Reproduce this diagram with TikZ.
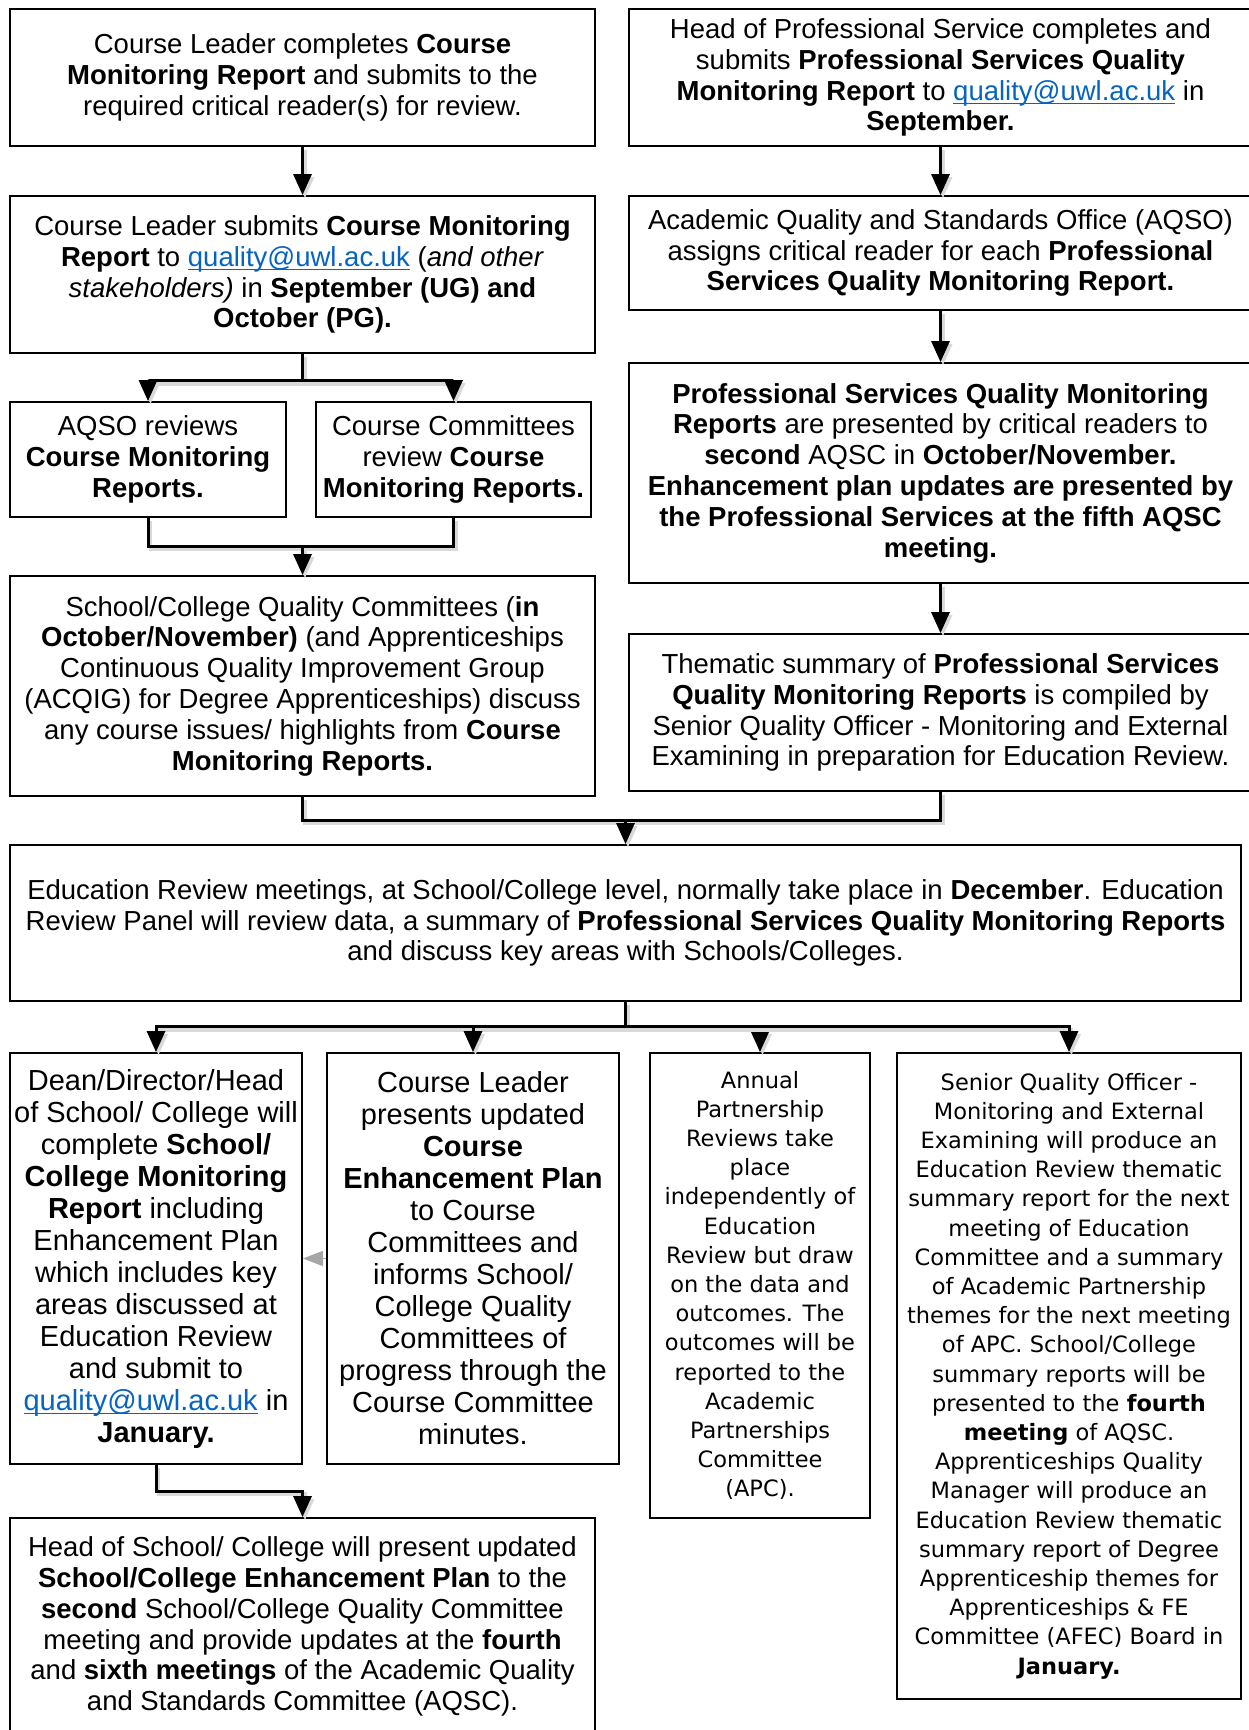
\documentclass[tikz,border=0pt]{standalone}
\usepackage{fontspec}
\usepackage{xcolor}
\usepackage{tikz}
\usetikzlibrary{arrows.meta,positioning,calc}
\setmainfont{Liberation Sans}
\newfontfamily\verdfont{DejaVu Sans}
\definecolor{linkblue}{RGB}{5,99,193}
\newcommand{\maillink}{{\color{linkblue}\setbox0\hbox{quality@uwl.ac.uk}\rlap{\rule[-4pt]{\wd0}{1.4pt}}\box0}}

\begin{document}
\begin{tikzpicture}[
    x=1pt, y=-1pt,
    box/.style={
        draw,
        line width=1.8pt,
        align=center,
        inner sep=0pt,
        font=\fontsize{27.5}{30.8}\selectfont
    },
    tallbox/.style={box, font=\fontsize{29}{32}\selectfont},
    verdbox/.style={box, font=\verdfont\fontsize{22.5}{29.2}\selectfont},
    line/.style={line width=3pt,
        preaction={draw=black!15, line width=3.5pt, transform canvas={shift={(2.5pt,-3pt)}}}},
    conn/.style={line, -{Triangle[width=18pt,length=21pt]}},
    grayarr/.style={draw=black!35, line width=1.8pt, -{Triangle[width=15pt,length=20pt]}}
]
\useasboundingbox (0,0) rectangle (1249,1730);

% --- Left column: course monitoring ---
\node[box, minimum width=585, minimum height=137] (cl1) at (302.5,77.5)
    {Course Leader completes \textbf{Course}\\
     \textbf{Monitoring Report} and submits to the\\
     required critical reader(s) for review.};
\node[box, minimum width=585, minimum height=157] (cl2) at (302.5,274.5)
    {Course Leader submits \textbf{Course Monitoring}\\
     \textbf{Report} to \maillink{} (\textit{and other}\\
     \textit{stakeholders)} in \textbf{September (UG) and}\\
     \textbf{October (PG).}};
\node[box, minimum width=276, minimum height=115] (aqso) at (148,459.5)
    {AQSO reviews\\ \textbf{Course Monitoring}\\ \textbf{Reports.}};
\node[box, minimum width=275, minimum height=115] (ccr) at (453.5,459.5)
    {Course Committees\\ review \textbf{Course}\\ \textbf{Monitoring Reports.}};
\node[box, minimum width=585, minimum height=220] (sqc) at (302.5,686)
    {School/College Quality Committees (\textbf{in}\\
     \textbf{October/November)} (and Apprenticeships\\
     Continuous Quality Improvement Group\\
     (ACQIG) for Degree Apprenticeships) discuss\\
     any course issues/ highlights from \textbf{Course}\\
     \textbf{Monitoring Reports.}};

% --- Right column: professional services ---
\node[box, minimum width=623, minimum height=137] (ps1) at (940.5,77.5)
    {Head of Professional Service completes and\\
     submits \textbf{Professional Services Quality}\\
     \textbf{Monitoring Report} to \maillink{} in\\
     \textbf{September.}};
\node[box, minimum width=623, minimum height=114] (asg) at (940.5,253)
    {Academic Quality and Standards Office (AQSO)\\
     assigns critical reader for each \textbf{Professional}\\
     \textbf{Services Quality Monitoring Report.}};
\node[box, minimum width=623, minimum height=220] (ps3) at (940.5,473)
    {\textbf{Professional Services Quality Monitoring}\\
     \textbf{Reports} are presented by critical readers to\\
     \textbf{second} AQSC in \textbf{October/November.}\\
     \textbf{Enhancement plan updates are presented by}\\
     \textbf{the Professional Services at the fifth AQSC}\\
     \textbf{meeting.}};
\node[box, minimum width=623, minimum height=157] (thm) at (940.5,712.5)
    {Thematic summary of \textbf{Professional Services}\\
     \textbf{Quality Monitoring Reports} is compiled by\\
     Senior Quality Officer - Monitoring and External\\
     Examining in preparation for Education Review.};

% --- Education Review ---
\node[box, minimum width=1231, minimum height=156] (edu) at (625.5,923)
    {Education Review meetings, at School/College level, normally take place in \textbf{December}. Education\\
     Review Panel will review data, a summary of \textbf{Professional Services Quality Monitoring Reports}\\
     and discuss key areas with Schools/Colleges.};

% --- Outcomes ---
\node[tallbox, minimum width=292, minimum height=411] (dean) at (156,1258.5)
    {Dean/Director/Head\\ of School/ College will\\ complete \textbf{School/}\\
     \textbf{College Monitoring}\\ \textbf{Report} including\\ Enhancement Plan\\
     which includes key\\ areas discussed at\\ Education Review\\
     and submit to\\ \maillink{} in\\ \textbf{January.}};
\node[tallbox, minimum width=292, minimum height=411] (clp) at (473,1258.5)
    {Course Leader\\ presents updated\\ \textbf{Course}\\ \textbf{Enhancement Plan}\\
     to Course\\ Committees and\\ informs School/\\ College Quality\\
     Committees of\\ progress through the\\ Course Committee\\ minutes.};
\node[verdbox, minimum width=220, minimum height=465] (apr) at (760,1285.5)
    {Annual\\ Partnership\\ Reviews take\\ place\\ independently of\\ Education\\
     Review but draw\\ on the data and\\ outcomes. The\\ outcomes will be\\
     reported to the\\ Academic\\ Partnerships\\ Committee\\ (APC).};
\node[verdbox, minimum width=344, minimum height=646] (sqo) at (1069,1376)
    {Senior Quality Officer -\\ Monitoring and External\\ Examining will produce an\\
     Education Review thematic\\ summary report for the next\\ meeting of Education\\
     Committee and a summary\\ of Academic Partnership\\ themes for the next meeting\\
     of APC. School/College\\ summary reports will be\\ presented to the \textbf{fourth}\\
     \textbf{meeting} of AQSC.\\ Apprenticeships Quality\\ Manager will produce an\\
     Education Review thematic\\ summary report of Degree\\ Apprenticeship themes for\\
     Apprenticeships \& FE\\ Committee (AFEC) Board in\\ \textbf{January.}};
\node[box, minimum width=585, minimum height=217] (hos) at (302.5,1626.5)
    {Head of School/ College will present updated\\
     \textbf{School/College Enhancement Plan} to the\\
     \textbf{second} School/College Quality Committee\\
     meeting and provide updates at the \textbf{fourth}\\
     and \textbf{sixth meetings} of the Academic Quality\\
     and Standards Committee (AQSC).};

% --- Connections ---
\draw[conn] (cl1) -- (cl2);
\draw[line] (cl2.south) -- ++(0,27) coordinate (split1);
\draw[conn] (split1) -| (aqso.north);
\draw[conn] (split1) -| (ccr.north);
\draw[line] (aqso.south) |- ($(sqc.north)+(0,-29)$) coordinate (join1);
\draw[line] (ccr.south) |- (join1);
\draw[conn] (join1) -- (sqc.north);

\draw[conn] (ps1) -- (asg);
\draw[conn] (asg) -- (ps3);
\draw[conn] (ps3) -- (thm);

\draw[line] (sqc.south) |- ($(edu.north)+(0,-24)$) coordinate (join2);
\draw[line] (thm.south) |- (join2);
\draw[conn] (join2) -- (edu.north);

\draw[line] (edu.south) -- ++(0,25) coordinate (split2);
\draw[conn] (split2) -| (dean.north);
\draw[conn] (split2) -| (clp.north);
\draw[conn] (split2) -| (apr.north);
\draw[conn] (split2) -| (sqo.north);

\draw[grayarr] (clp) -- (dean);
\draw[conn] (dean.south) |- ($(hos.north)+(0,-26)$) -- (hos.north);

\end{tikzpicture}
\end{document}
